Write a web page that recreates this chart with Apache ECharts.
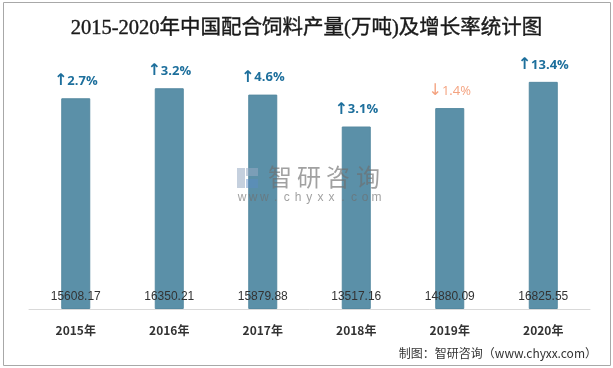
<!DOCTYPE html>
<html>
<head>
<meta charset="utf-8">
<script src="https://cdn.jsdelivr.net/npm/echarts@6/dist/echarts.min.js"></script>
<style>html,body{margin:0;padding:0;background:#fff}#c{width:613px;height:368px}</style>
</head>
<body>
<div id="c"></div>
<script>
var categories = ['2015年', '2016年', '2017年', '2018年', '2019年', '2020年'];
var output = [15608.17, 16350.21, 15879.88, 13517.16, 14880.09, 16825.55];
var growth = [2.7, 3.2, 4.6, 3.1, 1.4, 13.4];
var growthDir = ['up', 'up', 'up', 'up', 'down', 'up'];

var chart = echarts.init(document.getElementById('c'));

var wmChars = '智研咨询'.split('');
var wmX = [280, 309, 338, 368];
var urlChars = 'www.chyxx.com'.split('');
var graphics = [
  {type: 'rect', shape: {x: 3.5, y: 2.5, width: 607, height: 363}, style: {fill: 'none', stroke: '#a8a8a8', lineWidth: 1}, z: 0, silent: true},
  {type: 'rect', shape: {x: 237, y: 168, width: 8, height: 20}, style: {fill: 'rgba(150,170,195,0.55)'}, z: 10, silent: true},
  {type: 'rect', shape: {x: 246, y: 168, width: 12, height: 8}, style: {fill: 'rgba(150,170,195,0.55)'}, z: 10, silent: true},
  {type: 'rect', shape: {x: 246, y: 179, width: 12, height: 9}, style: {fill: 'rgba(90,140,200,0.45)'}, z: 10, silent: true}
];
wmChars.forEach(function (ch, i) {
  graphics.push({type: 'text', x: wmX[i], y: 177, z: 10, silent: true,
    style: {text: ch, fill: 'rgba(110,110,110,0.65)', font: '24px "Noto Sans CJK SC"', textAlign: 'center', textVerticalAlign: 'middle'}});
});
urlChars.forEach(function (ch, i) {
  graphics.push({type: 'text', x: 242 + i * 11.2, y: 198, z: 10, silent: true,
    style: {text: ch, fill: 'rgba(110,110,110,0.65)', font: '12px "Liberation Sans"', textAlign: 'center', textVerticalAlign: 'middle'}});
});
graphics.push({type: 'text', right: 16, top: 347, silent: true,
  style: {text: '制图：智研咨询（www.chyxx.com）', fill: '#333', font: '12px "Noto Sans CJK SC"'}});

chart.setOption({
  animation: false,
  title: {
    text: '2015-2020年中国配合饲料产量(万吨)及增长率统计图',
    left: 'center', top: 13,
    textStyle: {fontFamily: '"Liberation Serif","Noto Sans CJK SC"', fontSize: 20.5, fontWeight: 'normal', color: '#1a1a1a',
      textBorderColor: '#1a1a1a', textBorderWidth: 0.4}
  },
  grid: {left: 29, right: 23, top: 39, bottom: 59},
  xAxis: {
    type: 'category', data: categories,
    axisLine: {lineStyle: {color: '#d9d9d9', width: 1}},
    axisTick: {show: false},
    axisLabel: {color: '#333', fontSize: 12, fontWeight: 'bold', margin: 15, fontFamily: '"Noto Sans CJK SC"'}
  },
  yAxis: {type: 'value', min: 0, max: 20000, show: false, splitLine: {show: false}},
  series: [
    {
      type: 'bar', data: output, barWidth: 29,
      itemStyle: {color: '#5b90a8', borderColor: '#5589a1', borderWidth: 1},
      label: {show: true, position: 'insideBottom', distance: 6, color: '#333', fontSize: 12, fontFamily: '"Liberation Sans"',
        formatter: function (p) { return output[p.dataIndex].toFixed(2); }}
    },
    {
      type: 'bar', data: output, barWidth: 29, barGap: '-100%', silent: true,
      itemStyle: {color: 'rgba(0,0,0,0)'},
      label: {show: true, position: 'top', distance: 9,
        formatter: function (p) {
          var i = p.dataIndex;
          return growthDir[i] === 'up' ? '{ua|↑}{u|' + growth[i] + '%}' : '{da|↓}{d|' + growth[i] + '%}';
        },
        rich: {
          ua: {color: '#1d6f9c', fontSize: 16, fontWeight: 'bold', fontFamily: '"DejaVu Sans"'},
          u: {color: '#1d6f9c', fontSize: 13, fontWeight: 'bold', fontFamily: '"Open Sans"'},
          da: {color: '#f4a27f', fontSize: 16, fontFamily: '"DejaVu Sans"'},
          d: {color: '#f4a27f', fontSize: 13, fontFamily: '"Open Sans"'}
        }
      }
    }
  ],
  graphic: graphics
});
</script>
</body>
</html>
